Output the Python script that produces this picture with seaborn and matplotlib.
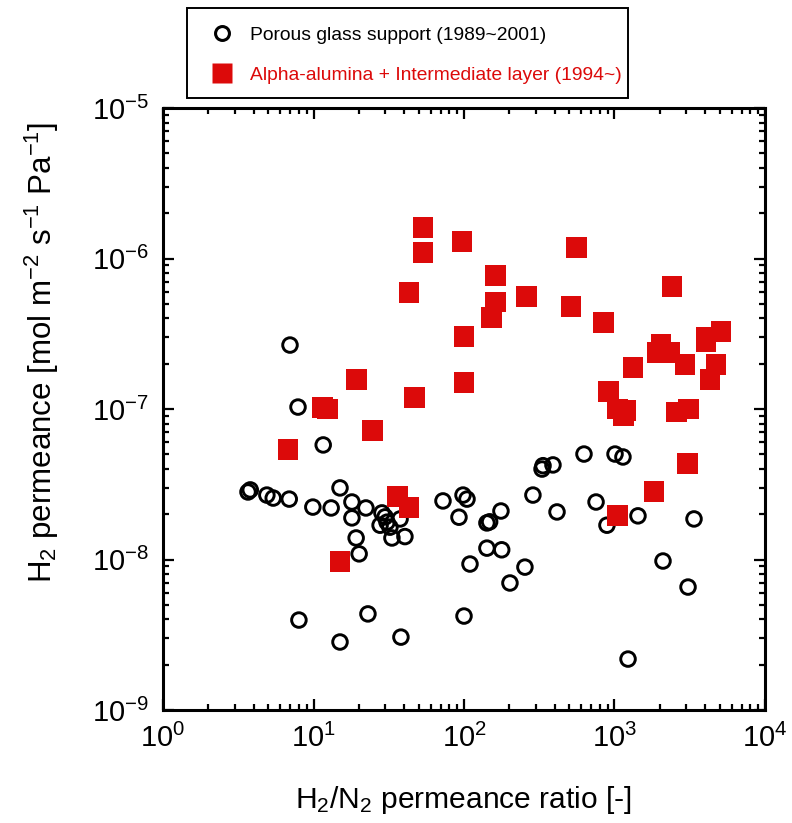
import matplotlib
matplotlib.use("Agg")
import matplotlib.pyplot as plt
import seaborn as sns
import pandas as pd
from matplotlib.lines import Line2D
from matplotlib.patches import Rectangle
from matplotlib.ticker import LogLocator, FixedLocator, FixedFormatter, NullFormatter

# ---- data ----
glass_ratio = [3.67, 3.8, 4.9, 5.4, 6.9, 9.9, 13.1, 15.0, 11.6, 18.0, 18.0, 22.3,
               19.2, 20.1, 28.5, 29.9, 30.8, 27.7, 37.6, 32.2, 33.2, 40.5, 8.0,
               15.0, 23.0, 38.1, 72.5, 98.5, 104.7, 92.6, 109.6, 100, 142, 148,
               176, 142, 178, 202, 254, 287, 330, 335, 390, 415, 627, 754, 891,
               1008, 1138, 1432, 2100, 1230, 3080, 3375, 6.98, 7.89]
glass_perm = [2.81e-8, 2.9e-8, 2.68e-8, 2.56e-8, 2.52e-8, 2.23e-8, 2.2e-8, 2.99e-8,
              5.77e-8, 2.41e-8, 1.89e-8, 2.2e-8, 1.39e-8, 1.09e-8, 2.04e-8, 1.92e-8,
              1.77e-8, 1.69e-8, 1.86e-8, 1.64e-8, 1.39e-8, 1.42e-8, 3.96e-9, 2.83e-9,
              4.35e-9, 3.05e-9, 2.45e-8, 2.68e-8, 2.52e-8, 1.91e-8, 9.33e-9, 4.21e-9,
              1.75e-8, 1.78e-8, 2.10e-8, 1.19e-8, 1.16e-8, 6.98e-9, 8.9e-9, 2.68e-8,
              3.99e-8, 4.2e-8, 4.25e-8, 2.07e-8, 5.02e-8, 2.41e-8, 1.69e-8, 5.02e-8,
              4.80e-8, 1.95e-8, 9.77e-9, 2.18e-9, 6.56e-9, 1.86e-8, 2.66e-7, 1.03e-7]

alumina_ratio = [6.77, 11.4, 12.3, 19.2, 24.5, 47.2, 43.1, 53.4, 53.4, 97, 100, 100,
                 161, 161, 153, 262, 563, 514, 839, 2410, 1327, 906, 1040, 1175, 1150,
                 2037, 1945, 2338, 2940, 2600, 3080, 4055, 4055, 5100, 4725, 4310,
                 1040, 1830, 3033, 15.0, 35.9, 43.1]
alumina_perm = [5.42e-8, 1.02e-7, 1.0e-7, 1.58e-7, 7.24e-8, 1.20e-7, 5.98e-7, 1.60e-6,
                1.10e-6, 1.29e-6, 3.01e-7, 1.49e-7, 7.66e-7, 5.14e-7, 4.03e-7, 5.55e-7,
                1.19e-6, 4.83e-7, 3.73e-7, 6.47e-7, 1.90e-7, 1.30e-7, 1.0e-7, 9.8e-8,
                9.1e-8, 2.70e-7, 2.39e-7, 2.39e-7, 1.99e-7, 9.55e-8, 1.0e-7, 3.0e-7,
                2.79e-7, 3.25e-7, 1.99e-7, 1.58e-7, 1.95e-8, 2.81e-8, 4.37e-8, 9.77e-9,
                2.64e-8, 2.2e-8]

series_labels = ["Porous glass support (1989~2001)",
                 "Alpha-alumina + Intermediate layer (1994~)"]
x_ticks = [1, 10, 100, 1000, 10000]
x_tick_labels = ["10$^{0}$", "10$^{1}$", "10$^{2}$", "10$^{3}$", "10$^{4}$"]
y_ticks = [1e-9, 1e-8, 1e-7, 1e-6, 1e-5]
y_tick_labels = ["10$^{-9}$", "10$^{-8}$", "10$^{-7}$", "10$^{-6}$", "10$^{-5}$"]
x_label = "H$_2$/N$_2$ permeance ratio [-]"
y_label = "H$_2$ permeance [mol m$^{-2}$ s$^{-1}$ Pa$^{-1}$]"

RED = "#DC0A0A"
W, H = 792, 823

sns.set_theme(style="ticks")
plt.rcParams["font.family"] = ["Liberation Sans", "DejaVu Sans"]
plt.rcParams["mathtext.fontset"] = "custom"
plt.rcParams["mathtext.rm"] = "Liberation Sans"
plt.rcParams["mathtext.it"] = "Liberation Sans:italic"
plt.rcParams["mathtext.bf"] = "Liberation Sans:bold"
plt.rcParams["mathtext.sf"] = "Liberation Sans"
plt.rcParams["mathtext.default"] = "regular"
for key in ["text.color", "axes.labelcolor", "xtick.color", "ytick.color",
            "xtick.labelcolor", "ytick.labelcolor"]:
    plt.rcParams[key] = "black"

glass_df = pd.DataFrame({"ratio": glass_ratio, "perm": glass_perm})
alumina_df = pd.DataFrame({"ratio": alumina_ratio, "perm": alumina_perm})

fig = plt.figure(figsize=(W / 100, H / 100), dpi=100)
ax = fig.add_axes([163 / W, 1 - 710 / H, (765 - 163) / W, (710 - 108) / H])
ax.set_xscale("log")
ax.set_yscale("log")

sns.scatterplot(data=glass_df, x="ratio", y="perm", ax=ax, marker="o", s=110,
                facecolors="none", edgecolors="black", linewidths=2.1,
                legend=False, zorder=3)
sns.scatterplot(data=alumina_df, x="ratio", y="perm", ax=ax, marker="s", s=228,
                color=RED, edgecolor="none", linewidth=0, legend=False, zorder=4)

ax.set_xlim(1, 1e4)
ax.set_ylim(1e-9, 1e-5)

ax.xaxis.set_major_locator(FixedLocator(x_ticks))
ax.xaxis.set_major_formatter(FixedFormatter(x_tick_labels))
ax.yaxis.set_major_locator(FixedLocator(y_ticks))
ax.yaxis.set_major_formatter(FixedFormatter(y_tick_labels))
ax.xaxis.set_minor_locator(LogLocator(base=10, subs=range(2, 10), numticks=20))
ax.yaxis.set_minor_locator(LogLocator(base=10, subs=range(2, 10), numticks=20))
ax.xaxis.set_minor_formatter(NullFormatter())
ax.yaxis.set_minor_formatter(NullFormatter())

ax.tick_params(which="both", direction="in", top=True, right=True, color="black")
ax.tick_params(which="major", length=8, width=1.6, labelsize=21, pad=10,
               labelcolor="black")
ax.tick_params(which="minor", length=4.5, width=1.6)
for sp in ax.spines.values():
    sp.set_visible(True)
    sp.set_linewidth(2.2)
    sp.set_color("black")

ax.set_xlabel(x_label, fontsize=21.6, color="black")
ax.xaxis.set_label_coords(0.5, -(800 - 710) / 602, transform=ax.transAxes)
ax.set_ylabel(y_label, fontsize=22.5, color="black")
ax.yaxis.set_label_coords(-(163 - 42) / 602, (710 - 352) / 602, transform=ax.transAxes)
ax.xaxis.label.set_va("center")
ax.yaxis.label.set_va("center")
ax.grid(False)

# legend frame drawn as a figure rectangle
fig.patches.append(Rectangle((187 / W, 1 - 98 / H), (628 - 187) / W, 90 / H,
                             transform=fig.transFigure, facecolor="white",
                             edgecolor="black", linewidth=1.4, zorder=0))

handles = [
    Line2D([], [], marker="o", ls="none", mfc="none", mec="black", mew=2.2, ms=10),
    Line2D([], [], marker="s", ls="none", mfc=RED, mec="none", ms=15.1),
]
fs = 13.9
em = fs * 100 / 72
hl = 1.5
leg = fig.legend(handles, series_labels, loc="center left",
                 bbox_to_anchor=((222 - hl * em / 2) / W, 1 - 55 / H), frameon=False,
                 fontsize=fs, borderpad=0, handlelength=hl,
                 handletextpad=(250 - 222 - hl * em / 2) / em,
                 labelspacing=1.15, borderaxespad=0)
leg.get_texts()[0].set_color("black")
leg.get_texts()[1].set_color(RED)

fig.savefig("out.png", dpi=100)
